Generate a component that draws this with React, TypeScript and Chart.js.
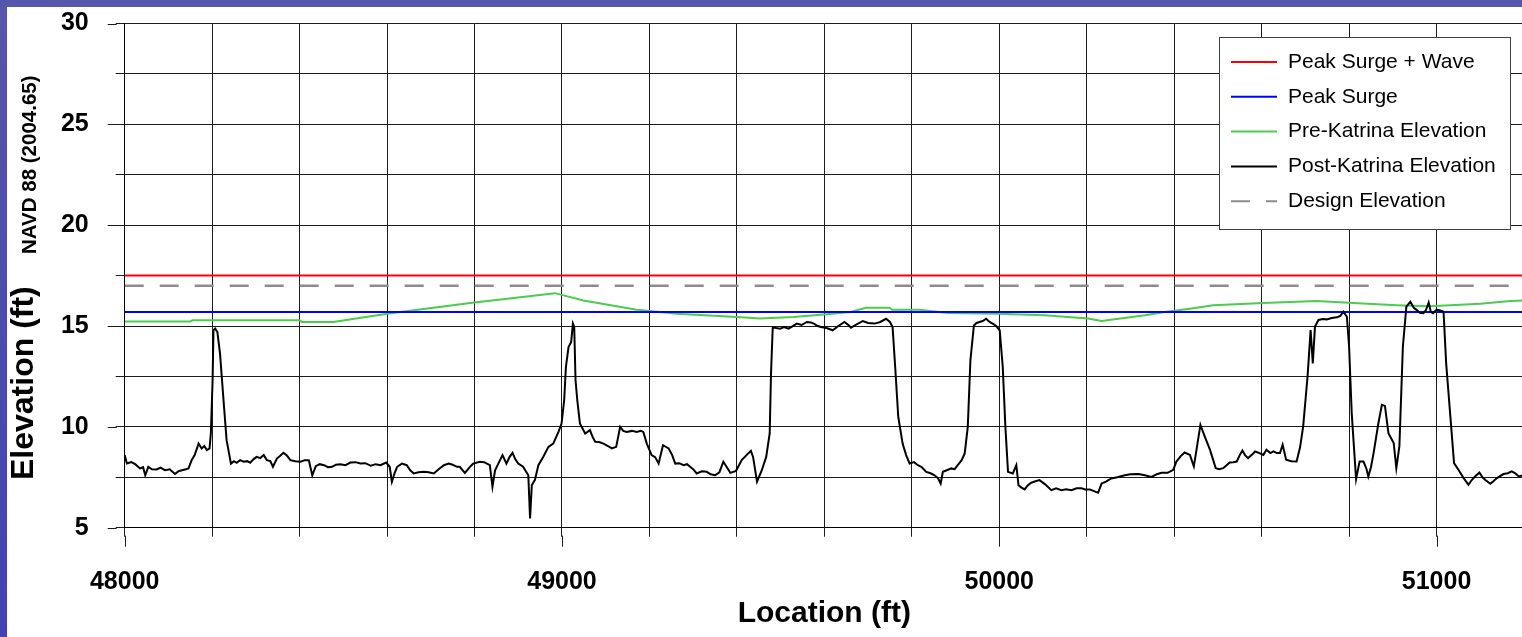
import React, { useEffect, useRef } from 'react';
import { Chart, registerables } from 'chart.js';

Chart.register(...registerables);

// ---- axis ranges & tick labels ----
const xMin = 48000;
const xMax = 51200;
const xStep = 200;
const yMin = 5;
const yMax = 30;
const yStep = 2.5;
const xTickLabels = [48000, 49000, 50000, 51000];
const yTickLabels = [5, 10, 15, 20, 25, 30];

// ---- series names ----
const seriesNames = [
  'Peak Surge + Wave',
  'Peak Surge',
  'Pre-Katrina Elevation',
  'Post-Katrina Elevation',
  'Design Elevation',
];

// ---- constant levels ----
const levelX = [48000, 51200];
const peakSurgeWaveY = [17.5, 17.5];
const peakSurgeY = [15.7, 15.7];
const designY = [17.0, 17.0];

// ---- Pre-Katrina elevation ----
const preX = [48000, 48150, 48155, 48400, 48405, 48477, 48600, 48790, 48984, 49049, 49171, 49263, 49400, 49453, 49530, 49591, 49660, 49695, 49749, 49755, 49817, 49882, 49997, 50103, 50203, 50234, 50333, 50378, 50436, 50489, 50604, 50726, 50810, 50909, 50985, 51100, 51169, 51200];
const preY = [15.23, 15.23, 15.28, 15.28, 15.2, 15.2, 15.61, 16.14, 16.63, 16.27, 15.81, 15.61, 15.45, 15.37, 15.45, 15.56, 15.7, 15.91, 15.91, 15.81, 15.81, 15.65, 15.61, 15.53, 15.37, 15.25, 15.53, 15.7, 15.86, 16.03, 16.14, 16.24, 16.14, 16.03, 15.98, 16.11, 16.24, 16.27];

// ---- Post-Katrina elevation ----
const postX = [
  48000, 48005, 48015, 48024, 48035, 48042, 48047, 48054, 48062, 48073, 48082, 48092, 48103, 48115, 48123, 48131, 48140, 48146, 48153, 48160,
  48169, 48176, 48182, 48188, 48194, 48197, 48201, 48203, 48207, 48212, 48218, 48226, 48233, 48243, 48250, 48256, 48264, 48272, 48280, 48287,
  48295, 48302, 48310, 48318, 48325, 48333, 48339, 48348, 48355, 48363, 48370, 48379, 48390, 48402, 48412, 48421, 48429, 48437, 48446, 48456,
  48465, 48474, 48483, 48493, 48505, 48516, 48528, 48539, 48550, 48563, 48574, 48585, 48598, 48606, 48611, 48617, 48623, 48634, 48645, 48653,
  48661, 48672, 48684, 48695, 48707, 48718, 48730, 48741, 48750, 48760, 48766, 48778, 48791, 48797, 48812, 48822, 48835, 48841, 48847, 48855,
  48864, 48873, 48880, 48887, 48893, 48900, 48911, 48923, 48927, 48931, 48938, 48946, 48957, 48969, 48980, 48992, 48999, 49005, 49009, 49015,
  49021, 49025, 49028, 49031, 49035, 49041, 49053, 49064, 49070, 49076, 49085, 49095, 49105, 49114, 49124, 49133, 49140, 49148, 49160, 49171,
  49180, 49186, 49194, 49205, 49213, 49221, 49231, 49244, 49252, 49259, 49268, 49278, 49286, 49293, 49300, 49308, 49320, 49331, 49340, 49350,
  49360, 49369, 49377, 49385, 49398, 49411, 49422, 49432, 49437, 49446, 49457, 49467, 49475, 49478, 49482, 49490, 49499, 49508, 49518, 49528,
  49537, 49548, 49560, 49569, 49576, 49585, 49592, 49605, 49619, 49632, 49646, 49655, 49661, 49675, 49688, 49700, 49715, 49728, 49741, 49750,
  49756, 49762, 49769, 49779, 49787, 49795, 49805, 49814, 49823, 49833, 49843, 49852, 49860, 49866, 49871, 49880, 49890, 49898, 49905, 49914,
  49921, 49928, 49934, 49942, 49948, 49955, 49962, 49970, 49978, 49985, 49993, 50001, 50008, 50014, 50020, 50031, 50039, 50044, 50050, 50058,
  50065, 50073, 50083, 50092, 50105, 50119, 50130, 50142, 50153, 50165, 50177, 50188, 50197, 50207, 50218, 50226, 50234, 50245, 50256, 50270,
  50287, 50300, 50318, 50333, 50348, 50360, 50371, 50385, 50398, 50405, 50415, 50424, 50436, 50445, 50451, 50460, 50470, 50482, 50490, 50495,
  50503, 50512, 50520, 50527, 50535, 50543, 50550, 50556, 50562, 50569, 50577, 50585, 50595, 50604, 50611, 50620, 50627, 50635, 50642, 50648,
  50656, 50668, 50680, 50688, 50695, 50705, 50712, 50717, 50722, 50730, 50740, 50749, 50760, 50772, 50780, 50787, 50795, 50800, 50806, 50811,
  50816, 50824, 50833, 50840, 50844, 50850, 50856, 50867, 50875, 50882, 50890, 50902, 50908, 50915, 50923, 50931, 50940, 50948, 50955, 50962,
  50970, 50976, 50982, 50987, 50992, 51000, 51005, 51016, 51022, 51031, 51040, 51050, 51062, 51073, 51080, 51088, 51098, 51105, 51111, 51123,
  51130, 51138, 51153, 51163, 51172, 51180, 51188, 51200,
];
const postY = [
  8.6, 8.18, 8.25, 8.15, 7.94, 8.0, 7.6, 8.02, 7.9, 7.89, 7.98, 7.85, 7.9, 7.66, 7.8, 7.85, 7.9, 7.94, 8.35, 8.6,
  9.17, 8.93, 9.05, 8.85, 8.93, 9.67, 12.3, 14.79, 14.87, 14.7, 13.63, 11.32, 9.34, 8.18, 8.3, 8.22, 8.35, 8.27, 8.3, 8.22,
  8.4, 8.51, 8.45, 8.6, 8.35, 8.3, 8.02, 8.43, 8.55, 8.71, 8.6, 8.35, 8.3, 8.27, 8.35, 8.35, 7.6, 8.05, 8.15, 8.1,
  8.0, 8.02, 8.12, 8.15, 8.1, 8.23, 8.25, 8.18, 8.2, 8.07, 8.15, 8.1, 8.23, 8.02, 7.28, 7.69, 8.02, 8.18, 8.1, 7.85,
  7.69, 7.75, 7.77, 7.75, 7.69, 7.9, 8.1, 8.18, 8.12, 8.02, 8.02, 7.72, 8.05, 8.18, 8.27, 8.25, 8.1, 7.03, 7.85, 8.2,
  8.6, 8.18, 8.5, 8.71, 8.4, 8.18, 8.02, 7.6, 5.46, 7.11, 7.36, 8.1, 8.51, 9.01, 9.17, 9.75, 10.16, 11.32, 12.97, 13.96,
  14.21, 15.12, 14.95, 12.31, 11.32, 10.17, 9.67, 9.84, 9.5, 9.26, 9.25, 9.17, 9.05, 8.93, 9.01, 10.0, 9.8, 9.75, 9.8, 9.75,
  9.8, 9.75, 9.17, 8.6, 8.5, 8.18, 9.09, 8.93, 8.6, 8.18, 8.2, 8.1, 8.15, 8.02, 7.9, 7.69, 7.8, 7.77, 7.65, 7.6,
  7.75, 8.27, 8.0, 7.72, 7.82, 8.35, 8.6, 8.81, 8.51, 7.28, 7.85, 8.51, 9.67, 12.64, 14.95, 14.9, 14.87, 14.95, 14.87, 15.0,
  15.12, 15.05, 15.2, 15.18, 15.12, 15.0, 14.95, 14.9, 14.79, 15.0, 15.2, 15.05, 14.92, 15.1, 15.25, 15.15, 15.12, 15.2, 15.36, 15.2,
  14.95, 12.97, 10.5, 9.17, 8.6, 8.18, 8.25, 8.1, 8.0, 7.77, 7.7, 7.6, 7.45, 7.19, 7.77, 7.85, 7.94, 7.9, 8.1, 8.35,
  8.68, 10.0, 13.3, 15.03, 15.15, 15.2, 15.25, 15.36, 15.2, 15.12, 15.0, 14.79, 12.97, 10.0, 7.77, 7.69, 8.1, 7.11, 7.0, 6.9,
  7.1, 7.23, 7.3, 7.36, 7.15, 6.86, 6.95, 6.86, 6.9, 6.86, 6.95, 6.95, 6.9, 6.9, 6.8, 6.73, 7.19, 7.3, 7.44, 7.5,
  7.6, 7.65, 7.66, 7.6, 7.52, 7.65, 7.72, 7.72, 7.87, 8.28, 8.55, 8.73, 8.61, 8.04, 8.86, 10.1, 9.52, 8.86, 8.3, 7.95,
  7.9, 7.95, 8.1, 8.23, 8.25, 8.28, 8.6, 8.83, 8.6, 8.45, 8.6, 8.78, 8.7, 8.61, 8.86, 8.7, 8.78, 8.7, 8.7, 9.11,
  8.37, 8.3, 8.28, 9.0, 10.02, 12.49, 14.8, 13.15, 14.97, 15.3, 15.35, 15.33, 15.4, 15.43, 15.5, 15.71, 15.46, 13.98, 10.68, 9.03,
  7.41, 8.28, 8.28, 7.9, 7.54, 8.0, 8.7, 10.18, 11.09, 11.04, 9.69, 9.2, 7.95, 9.03, 13.98, 15.96, 16.2, 15.9, 15.79, 15.65,
  15.63, 15.8, 16.16, 15.7, 15.63, 15.8, 15.79, 15.71, 13.15, 10.68, 8.2, 7.87, 7.46, 7.13, 7.35, 7.54, 7.74, 7.5, 7.38, 7.18,
  7.3, 7.46, 7.66, 7.7, 7.79, 7.7, 7.54, 7.62,
];

// ---- colours ----
const seriesColors = ['#ff0000', '#0000ff', '#4ccc4c', '#000000', '#8c8c8c'];

const toPoints = (xs: number[], ys: number[]) => xs.map((x, i) => ({ x, y: ys[i] }));

const textFont = "'Liberation Sans', Arial, Helvetica, sans-serif";
const gridColor = '#1c1c1c';

const framePlugin = {
  id: 'frame',
  beforeDraw(chart: any) {
    const { ctx, width, height } = chart;
    ctx.save();
    const g = ctx.createLinearGradient(0, 0, 0, height);
    g.addColorStop(0, '#5656aa');
    g.addColorStop(1, '#4242b2');
    ctx.fillStyle = g;
    ctx.fillRect(0, 0, width, height);
    ctx.fillStyle = '#ffffff';
    ctx.fillRect(7, 7, width - 7, height - 7);
    ctx.restore();
  },
  afterDraw(chart: any) {
    const { ctx, chartArea } = chart;
    const xs = chart.scales.x;
    const ys = chart.scales.y;
    ctx.save();
    // longer major tick marks
    ctx.strokeStyle = gridColor;
    ctx.lineWidth = 1;
    ctx.beginPath();
    yTickLabels.forEach((v) => {
      const py = Math.round(ys.getPixelForValue(v)) + 0.5;
      ctx.moveTo(chartArea.left - 17, py);
      ctx.lineTo(chartArea.left - 8, py);
    });
    xTickLabels.forEach((v) => {
      const px = Math.round(xs.getPixelForValue(v)) + 0.5;
      ctx.moveTo(px, chartArea.bottom + 8);
      ctx.lineTo(px, chartArea.bottom + 19);
    });
    ctx.stroke();

    // y-axis titles
    ctx.fillStyle = '#000';
    ctx.textAlign = 'left';
    ctx.textBaseline = 'alphabetic';
    ctx.save();
    ctx.translate(33, 480);
    ctx.rotate(-Math.PI / 2);
    ctx.font = `bold 32px ${textFont}`;
    ctx.fillText('Elevation (ft)', 0, 0);
    ctx.restore();
    ctx.save();
    ctx.translate(36, 254);
    ctx.rotate(-Math.PI / 2);
    ctx.font = `bold 20.5px ${textFont}`;
    ctx.fillText('NAVD 88 (2004.65)', 0, 0);
    ctx.restore();

    // legend box
    const bx = 1219.5, by = 37.5, bw = 291, bh = 192;
    ctx.fillStyle = '#ffffff';
    ctx.fillRect(bx, by, bw, bh);
    ctx.strokeStyle = '#404040';
    ctx.lineWidth = 1;
    ctx.strokeRect(bx, by, bw, bh);
    ctx.font = `21px ${textFont}`;
    ctx.textBaseline = 'middle';
    chart.data.datasets.forEach((ds: any, i: number) => {
      const ry = 62 + i * 34.8;
      ctx.save();
      ctx.strokeStyle = ds.borderColor;
      ctx.lineWidth = 2;
      ctx.setLineDash(ds.borderDash || []);
      ctx.beginPath();
      ctx.moveTo(1231, ry);
      ctx.lineTo(1277, ry);
      ctx.stroke();
      ctx.restore();
      ctx.fillStyle = '#000';
      ctx.fillText(ds.label, 1288, ry);
    });
    ctx.restore();
  },
};

export default function App() {
  const canvasRef = useRef<HTMLCanvasElement | null>(null);

  useEffect(() => {
    if (!canvasRef.current) return;
    const common = { pointRadius: 0, pointHoverRadius: 0, borderWidth: 2, tension: 0, fill: false };
    const chart = new Chart(canvasRef.current, {
      type: 'line',
      data: {
        datasets: [
          { ...common, label: seriesNames[0], data: toPoints(levelX, peakSurgeWaveY), borderColor: seriesColors[0], order: 3 },
          { ...common, label: seriesNames[1], data: toPoints(levelX, peakSurgeY), borderColor: seriesColors[1], order: 1 },
          { ...common, label: seriesNames[2], data: toPoints(preX, preY), borderColor: seriesColors[2], order: 2 },
          { ...common, label: seriesNames[3], data: toPoints(postX, postY), borderColor: seriesColors[3], order: 0 },
          { ...common, label: seriesNames[4], data: toPoints(levelX, designY), borderColor: seriesColors[4], borderDash: [19, 16], borderWidth: 2.5, order: 4 },
        ],
      },
      options: {
        animation: false,
        responsive: false,
        devicePixelRatio: 1,
        layout: { padding: { left: 0, right: 0, top: 23.5, bottom: 0 } },
        plugins: { legend: { display: false }, tooltip: { enabled: false } },
        scales: {
          x: {
            type: 'linear',
            min: xMin,
            max: xMax,
            afterFit: (scale: any) => {
              scale.height = 109.3;
              scale.paddingLeft = 0;
              scale.paddingRight = 0;
            },
            ticks: {
              stepSize: xStep,
              autoSkip: false,
              maxRotation: 0,
              minRotation: 0,
              padding: 30,
              color: '#000',
              font: { family: textFont, size: 25, weight: 'bold' },
              callback: (v: any) => (xTickLabels.includes(Number(v)) ? String(v) : ''),
            },
            grid: { color: gridColor, lineWidth: 1, tickLength: 9, tickColor: gridColor },
            border: { display: true, color: '#000', width: 1 },
            title: {
              display: true,
              text: 'Location (ft)',
              color: '#000',
              font: { family: textFont, size: 30, weight: 'bold' },
              padding: { top: 0, bottom: 5 },
            },
          },
          y: {
            type: 'linear',
            min: yMin,
            max: yMax,
            afterFit: (scale: any) => {
              scale.width = 124.7;
              scale.paddingTop = 0;
              scale.paddingBottom = 0;
            },
            ticks: {
              stepSize: yStep,
              autoSkip: false,
              padding: 27,
              color: '#000',
              font: { family: textFont, size: 25, weight: 'bold' },
              callback: (v: any) => (yTickLabels.includes(Number(v)) ? String(v) : ''),
            },
            grid: { color: gridColor, lineWidth: 1, tickLength: 9, tickColor: gridColor },
            border: { display: true, color: '#000', width: 1 },
          },
        },
      },
      plugins: [framePlugin],
    } as any);
    return () => chart.destroy();
  }, []);

  return (
    <div style={{ position: 'fixed', left: 0, top: 0, width: 1522, height: 637, overflow: 'hidden' }}>
      <canvas ref={canvasRef} width={1524} height={637} style={{ display: 'block', width: 1524, height: 637 }} />
    </div>
  );
}
